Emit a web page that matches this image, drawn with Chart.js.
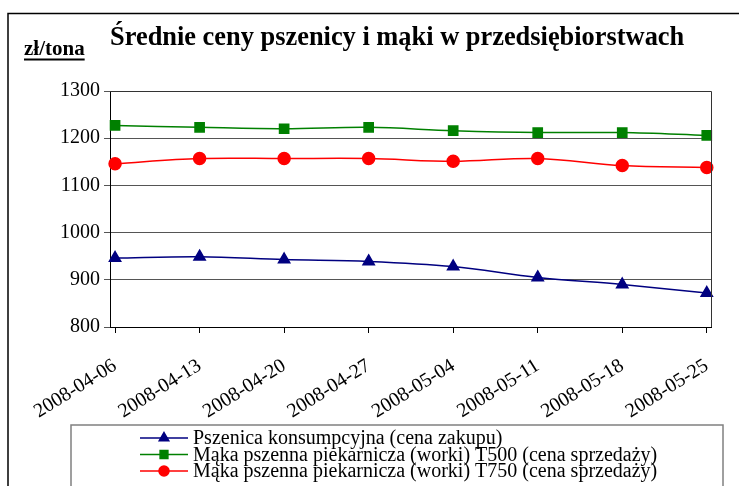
<!DOCTYPE html>
<html>
<head>
<meta charset="utf-8">
<script src="https://cdn.jsdelivr.net/npm/chart.js@4/dist/chart.umd.min.js"></script>
<style>
  html, body { margin: 0; padding: 0; background: #fff; }
  #wrap { width: 739px; height: 486px; position: relative; }
</style>
</head>
<body>
<div id="wrap"><canvas id="priceChart"></canvas></div>
<script>
const labels = ["2008-04-06", "2008-04-13", "2008-04-20", "2008-04-27", "2008-05-04", "2008-05-11", "2008-05-18", "2008-05-25"];
const pszenica = [946, 949, 943, 939, 928, 905, 890, 872];
const makaT500 = [1227, 1223, 1220, 1223, 1216, 1212, 1212, 1206];
const makaT750 = [1146, 1157, 1157, 1157, 1151, 1157, 1142, 1138];
const seriesNames = [
  "Pszenica konsumpcyjna (cena zakupu)",
  "Mąka pszenna piekarnicza (worki) T500 (cena sprzedaży)",
  "Mąka pszenna piekarnicza (worki) T750 (cena sprzedaży)"
];
const title = "Średnie ceny pszenicy i mąki w przedsiębiorstwach";
const unit = "zł/tona";

const serif = "'Liberation Serif', 'Times New Roman', serif";

function toPoints(arr) {
  return arr.map((v, i) => ({ x: i, y: v }));
}

const decor = {
  id: "decor",
  beforeDraw(chart) {
    const ctx = chart.ctx;
    ctx.save();
    ctx.fillStyle = "#fff";
    ctx.fillRect(0, 0, chart.width, chart.height);
    // outer chart frame (runs off right/bottom edge)
    ctx.strokeStyle = "#000";
    ctx.lineWidth = 1.5;
    ctx.strokeRect(8, 13.5, chart.width + 20, chart.height + 20);
    ctx.restore();
  },
  afterDraw(chart) {
    const ctx = chart.ctx;
    const area = chart.chartArea;
    ctx.save();
    // plot area top and right border
    ctx.strokeStyle = "#333";
    ctx.lineWidth = 1;
    ctx.beginPath();
    ctx.moveTo(area.left, Math.round(area.top) + 0.5);
    ctx.lineTo(Math.round(area.right) + 0.5, Math.round(area.top) + 0.5);
    ctx.lineTo(Math.round(area.right) + 0.5, area.bottom);
    ctx.stroke();

    // title
    ctx.fillStyle = "#000";
    ctx.font = "bold 26.4px " + serif;
    ctx.textAlign = "left";
    ctx.textBaseline = "alphabetic";
    ctx.fillText(title, 110, 45);

    // unit label
    ctx.font = "bold 21px " + serif;
    ctx.fillText(unit, 24, 55);
    const w = ctx.measureText(unit).width;
    ctx.fillRect(24, 58.5, w, 2);

    // legend box
    ctx.strokeStyle = "#808080";
    ctx.lineWidth = 1.5;
    ctx.strokeRect(71, 425, 652, 80);
    ctx.font = "20px " + serif;
    ctx.textBaseline = "middle";
    chart.data.datasets.forEach((ds, i) => {
      const y = 438 + i * 16.5;
      ctx.strokeStyle = ds.borderColor;
      ctx.lineWidth = 1.5;
      ctx.beginPath();
      ctx.moveTo(140, y);
      ctx.lineTo(188, y);
      ctx.stroke();
      ctx.fillStyle = ds.pointBackgroundColor;
      ctx.strokeStyle = ds.pointBackgroundColor;
      Chart.helpers.drawPoint(ctx, { pointStyle: ds.pointStyle, radius: ds.pointRadius - 1, borderWidth: 1, rotation: 0 }, 164, y);
      ctx.fillStyle = "#000";
      ctx.fillText(ds.label, 193, y + 1);
    });
    ctx.restore();
  }
};

new Chart(document.getElementById("priceChart"), {
  type: "line",
  data: {
    datasets: [
      {
        label: seriesNames[0],
        data: toPoints(pszenica),
        borderColor: "#000080",
        pointBackgroundColor: "#000080",
        pointBorderColor: "#000080",
        pointStyle: "triangle",
        pointRadius: 6.5,
        borderWidth: 1.5,
        tension: 0.35,
        clip: false
      },
      {
        label: seriesNames[1],
        data: toPoints(makaT500),
        borderColor: "#008000",
        pointBackgroundColor: "#008000",
        pointBorderColor: "#008000",
        pointStyle: "rect",
        pointRadius: 6.5,
        borderWidth: 1.5,
        tension: 0.35,
        clip: false
      },
      {
        label: seriesNames[2],
        data: toPoints(makaT750),
        borderColor: "#ff0000",
        pointBackgroundColor: "#ff0000",
        pointBorderColor: "#ff0000",
        pointStyle: "circle",
        pointRadius: 6,
        borderWidth: 1.5,
        tension: 0.35,
        clip: false
      }
    ]
  },
  options: {
    responsive: true,
    maintainAspectRatio: false,
    animation: false,
    layout: { padding: { top: 91, right: 28, bottom: 51, left: 56 } },
    plugins: {
      legend: { display: false },
      tooltip: { enabled: false }
    },
    scales: {
      x: {
        type: "linear",
        bounds: "data",
        min: -0.06,
        max: 7.05,
        afterDataLimits: (scale) => {
          scale.min = -0.06;
          scale.max = 7.05;
        },
        afterBuildTicks: (scale) => {
          scale.ticks = labels.map((l, i) => ({ value: i }));
        },
        afterFit: (scale) => {
          scale.height = 108;
          scale.paddingRight = 0;
          scale.paddingLeft = 0;
        },
        ticks: {
          callback: (v) => labels[v],
          autoSkip: false,
          minRotation: 32,
          maxRotation: 32,
          color: "#000",
          padding: 21,
          font: { family: serif, size: 20 }
        },
        grid: { drawOnChartArea: false, drawTicks: true, tickLength: 6, color: "#000" },
        border: { color: "#000", width: 1 }
      },
      y: {
        min: 800,
        max: 1300,
        ticks: {
          stepSize: 100,
          callback: (v) => String(v),
          color: "#000",
          padding: 4,
          font: { family: serif, size: 20 }
        },
        grid: { color: "#555", tickLength: 6, drawTicks: true },
        border: { color: "#000", width: 1 }
      }
    }
  },
  plugins: [decor]
});
</script>
</body>
</html>
